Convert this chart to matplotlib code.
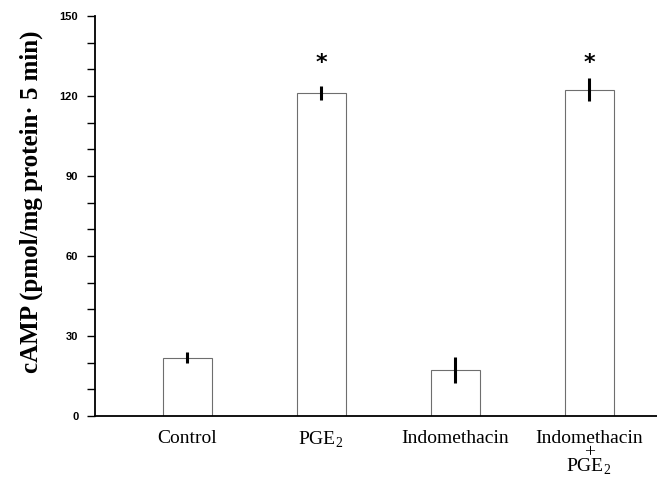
import matplotlib
matplotlib.use("Agg")
import matplotlib.pyplot as plt
import numpy as np

plt.rcParams["mathtext.fontset"] = "custom"
plt.rcParams["mathtext.rm"] = "Liberation Serif"

# values
categories = ["Control", "PGE$_{\\mathrm{2}}$", "Indomethacin", "Indomethacin\n+\nPGE$_{\\mathrm{2}}$"]
camp_mean = [21.8, 121.1, 17.3, 122.3]
camp_err = [2.1, 2.6, 4.9, 4.3]
significant = [False, True, False, True]
star_level = 132.5

fig = plt.figure(figsize=(6.57, 4.79), dpi=100)
ax = fig.add_axes([0.1446, 0.1315, 0.8554, 0.8351])

x = np.arange(len(categories))
ax.bar(x, camp_mean, width=0.366, color="white", edgecolor="#6e6e6e", linewidth=0.8, zorder=2)
ax.errorbar(x, camp_mean, yerr=camp_err, fmt="none", ecolor="black", elinewidth=2.2, capsize=0, zorder=3)

# asterisks over the significant bars
for xi, s in zip(x, significant):
    if s:
        ax.text(xi, star_level, "*", ha="center", va="center", fontsize=16,
                fontweight="bold", family="DejaVu Sans")

ax.set_xlim(-0.687, 3.507)
ax.set_ylim(0, 150)
ax.set_yticks(np.arange(0, 151, 10))
ax.set_yticklabels([str(v) if v % 30 == 0 else "" for v in range(0, 151, 10)])
ax.set_xticks(x)
ax.set_xticklabels(categories, family="Liberation Serif", fontsize=14, linespacing=0.76)
ax.tick_params(axis="x", length=0, pad=10)
ax.tick_params(axis="y", length=6, width=1, pad=6, direction="out")
for lab in ax.get_yticklabels():
    lab.set_family("Liberation Sans")
    lab.set_fontweight("bold")
    lab.set_fontsize(8)

ax.spines["top"].set_visible(False)
ax.spines["right"].set_visible(False)
ax.spines["left"].set_linewidth(1.3)
ax.spines["bottom"].set_linewidth(1.3)

ax.set_ylabel("cAMP (pmol/mg protein\u00b7 5 min)", family="Liberation Serif",
              fontweight="bold", fontsize=18)
ax.yaxis.set_label_coords(-0.093, 0.535)

fig.savefig("out.png", dpi=100)
